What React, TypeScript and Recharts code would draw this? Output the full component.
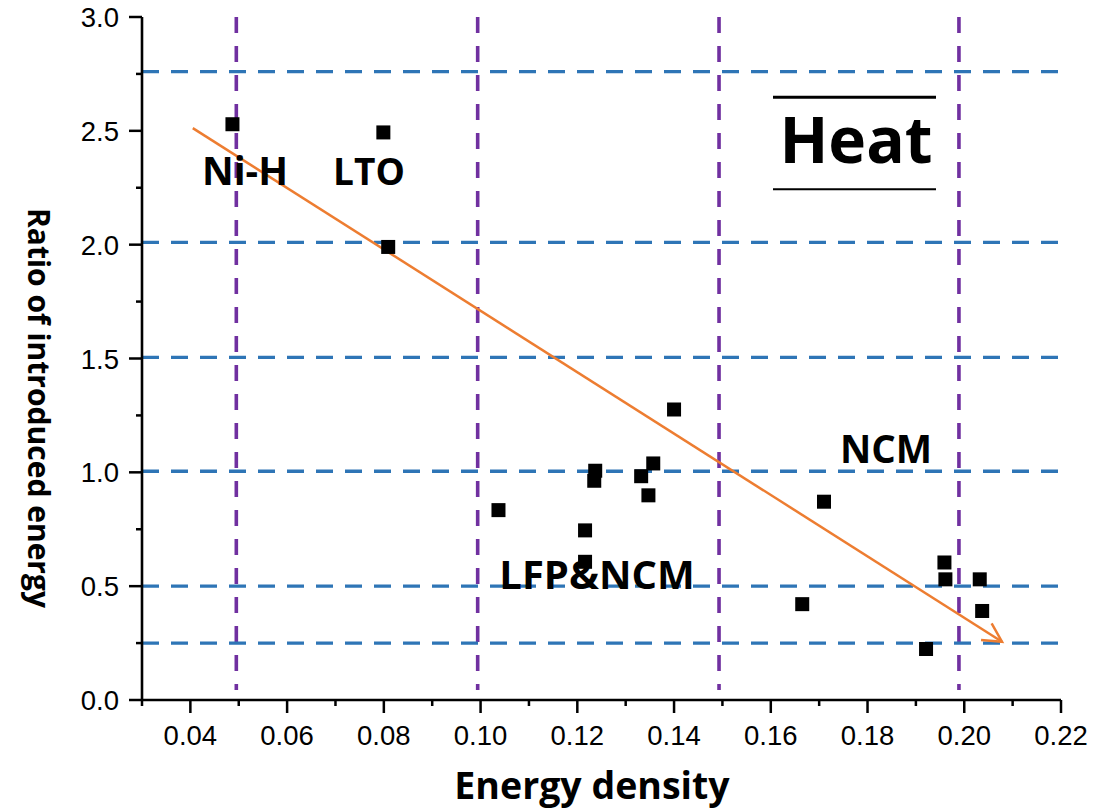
import { ScatterChart, Scatter, XAxis, YAxis, ReferenceLine } from 'recharts';

// measured cells: energy density vs ratio of introduced energy
const energyDensity = [
  0.0487, 0.0799, 0.0809, 0.1037, 0.1216, 0.1216, 0.1237, 0.1235, 0.1332, 0.1357,
  0.1347, 0.14, 0.171, 0.1665, 0.1959, 0.1961, 0.2032, 0.2037, 0.1921,
];
const energyRatio = [
  2.529, 2.493, 1.99, 0.834, 0.745, 0.607, 1.007, 0.963, 0.983, 1.039,
  0.899, 1.276, 0.871, 0.421, 0.604, 0.53, 0.53, 0.391, 0.224,
];

const xTicks = [0.03, 0.04, 0.05, 0.06, 0.07, 0.08, 0.09, 0.1, 0.11, 0.12, 0.13, 0.14, 0.15, 0.16, 0.17, 0.18, 0.19, 0.2, 0.21, 0.22];
const yTicks = [0, 0.25, 0.5, 0.75, 1, 1.25, 1.5, 1.75, 2, 2.25, 2.5, 2.75, 3];
const topTicks = [0.03, 0.049, 0.068, 0.087, 0.106, 0.125, 0.144, 0.163, 0.182, 0.201, 0.22];
const rightTicks = [0, 0.3, 0.6, 0.9, 1.2, 1.5, 1.8, 2.1, 2.4, 2.7, 3];

const bandLevels = [2.76, 2.01, 1.505, 1.005, 0.5, 0.25];
const groupBorders = [0.0495, 0.0994, 0.1493, 0.1989];
const trendX = [0.0405, 0.2078];
const trendY = [2.512, 0.256];

const points = energyDensity.map((x, i) => ({ x, y: energyRatio[i] }));

const BLUE = '#2e75b6';
const PURPLE = '#7030a0';
const ORANGE = '#ed7d31';
const TICK_FONT = '"Liberation Sans", Arial, sans-serif';
const LABEL_FONT = '"Open Sans", "Noto Sans", sans-serif';

function BottomTick({ x, y, payload }: any) {
  const v = payload.value;
  const major = Math.round(v * 100) % 2 === 0;
  return (
    <g>
      <line x1={x} x2={x} y1={y} y2={y + (major ? 13 : 6)} stroke="#000" strokeWidth={2.5} />
      {major && (
        <text x={x} y={y + 45} textAnchor="middle" fontSize={27.5} fontFamily={TICK_FONT} fill="#000">
          {v.toFixed(2)}
        </text>
      )}
    </g>
  );
}

function LeftTick({ x, y, payload }: any) {
  const v = payload.value;
  const major = Math.round(v * 100) % 50 === 0;
  return (
    <g>
      <line x1={x} x2={x - (major ? 13 : 6)} y1={y} y2={y} stroke="#000" strokeWidth={2.5} />
      {major && (
        <text x={x - 23} y={y + 10} textAnchor="end" fontSize={27.5} fontFamily={TICK_FONT} fill="#000">
          {v.toFixed(1)}
        </text>
      )}
    </g>
  );
}

function TopTick({ x, y, payload }: any) {
  const major = Math.round((payload.value - 0.03) / 0.019) % 2 === 0;
  return <line x1={x} x2={x} y1={y} y2={y + (major ? 13 : 6)} stroke="#000" strokeWidth={2.5} />;
}

function RightTick({ x, y, payload }: any) {
  const major = Math.round(payload.value / 0.3) % 2 === 0;
  return <line x1={x} x2={x - (major ? 13 : 6)} y1={y} y2={y} stroke="#000" strokeWidth={2.5} />;
}

function Square({ cx, cy }: any) {
  return <rect x={cx - 7} y={cy - 7} width={14} height={14} fill="#000" />;
}

const dashedLine = (color: string, width: number, dash: string) =>
  function DashedLine({ x1, y1, x2, y2 }: any) {
    return <line x1={x1} y1={y1} x2={x2} y2={y2} stroke={color} strokeWidth={width} strokeDasharray={dash} />;
  };
const BlueDash = dashedLine(BLUE, 3.4, '17 12');
const PurpleDash = dashedLine(PURPLE, 3.6, '16 13');

function TrendArrow({ x1, y1, x2, y2 }: any) {
  const ang = Math.atan2(y2 - y1, x2 - x1);
  const len = 21;
  const spread = (28 * Math.PI) / 180;
  const a1 = ang + Math.PI - spread;
  const a2 = ang + Math.PI + spread;
  const pts = `${x2 + len * Math.cos(a1)},${y2 + len * Math.sin(a1)} ${x2},${y2} ${x2 + len * Math.cos(a2)},${y2 + len * Math.sin(a2)}`;
  return (
    <g>
      <line x1={x1} y1={y1} x2={x2} y2={y2} stroke={ORANGE} strokeWidth={2.5} />
      <polyline points={pts} fill="none" stroke={ORANGE} strokeWidth={2.5} />
    </g>
  );
}

const axisLine = { stroke: '#000', strokeWidth: 2.6 };

export default function App() {
  return (
    <div style={{ position: 'absolute', left: 0, top: 0, width: 1119, height: 809, background: '#fff' }}>
      <ScatterChart width={1119} height={809} margin={{ top: 17, right: 58, bottom: 0, left: 0 }}>
        <XAxis
          type="number"
          dataKey="x"
          domain={[0.03, 0.22]}
          ticks={xTicks}
          interval={0}
          allowDataOverflow
          height={109}
          tickSize={0}
          tickMargin={0}
          tickLine={false}
          axisLine={axisLine}
          tick={BottomTick}
        />
        <XAxis
          xAxisId="top"
          orientation="top"
          type="number"
          domain={[0.03, 0.22]}
          ticks={topTicks}
          interval={0}
          allowDataOverflow
          height={0}
          tickSize={0}
          tickMargin={0}
          tickLine={false}
          axisLine={axisLine}
          tick={TopTick}
        />
        <YAxis
          type="number"
          dataKey="y"
          domain={[0, 3]}
          ticks={yTicks}
          interval={0}
          allowDataOverflow
          width={142}
          tickSize={0}
          tickMargin={0}
          tickLine={false}
          axisLine={axisLine}
          tick={LeftTick}
        />
        <YAxis
          yAxisId="right"
          orientation="right"
          type="number"
          domain={[0, 3]}
          ticks={rightTicks}
          interval={0}
          allowDataOverflow
          width={0}
          tickSize={0}
          tickMargin={0}
          tickLine={false}
          axisLine={axisLine}
          tick={RightTick}
        />
        {groupBorders.map((gx) => (
          <ReferenceLine
            key={`v${gx}`}
            segment={[{ x: gx, y: 3 }, { x: gx, y: 0.044 }]}
            shape={PurpleDash}
          />
        ))}
        {bandLevels.map((ly) => (
          <ReferenceLine key={`h${ly}`} y={ly} shape={BlueDash} />
        ))}
        <ReferenceLine
          segment={[{ x: trendX[0], y: trendY[0] }, { x: trendX[1], y: trendY[1] }]}
          shape={TrendArrow}
          ifOverflow="visible"
        />
        <Scatter data={points} shape={Square} isAnimationActive={false} />
      </ScatterChart>
      <svg
        width={1119}
        height={809}
        style={{ position: 'absolute', left: 0, top: 0, pointerEvents: 'none' }}
        fontFamily={LABEL_FONT}
        fontWeight="bold"
      >
        <text x={245} y={185} textAnchor="middle" fontSize={39}>Ni-H</text>
        <text x={369} y={185} textAnchor="middle" fontSize={37}>LTO</text>
        <text x={597} y={589} textAnchor="middle" fontSize={40}>LFP&amp;NCM</text>
        <text x={886} y={463} textAnchor="middle" fontSize={38.5}>NCM</text>
        <text x={856} y={163} textAnchor="middle" fontSize={64}>Heat</text>
        <line x1={773} x2={936} y1={97.3} y2={97.3} stroke="#000" strokeWidth={3} />
        <line x1={773} x2={936} y1={189.3} y2={189.3} stroke="#000" strokeWidth={2} />
        <text x={592} y={799} textAnchor="middle" fontSize={37.5}>Energy density</text>
        <text
          x={39}
          y={408}
          textAnchor="middle"
          dominantBaseline="central"
          fontSize={30}
          transform="rotate(90 39 408)"
        >
          Ratio of introduced energy
        </text>
      </svg>
    </div>
  );
}
